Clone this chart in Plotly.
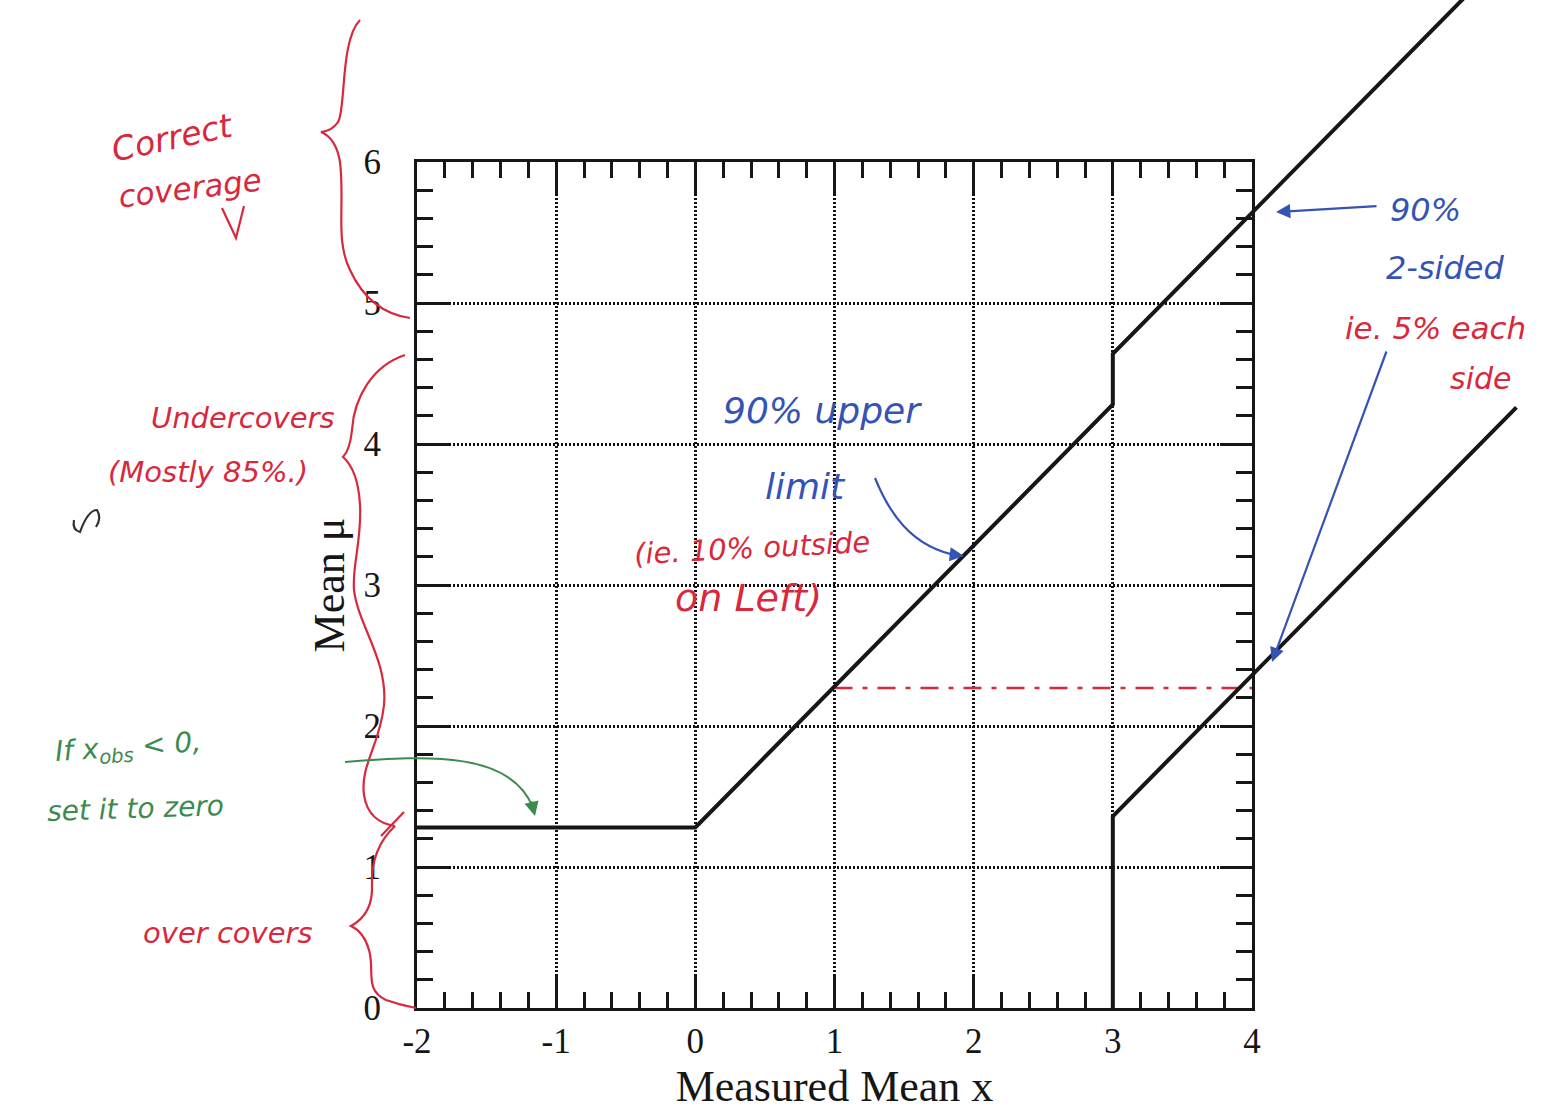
import plotly.graph_objects as go

# ---- figure geometry (pixels) ----
W, H = 1548, 1111
PLOT_L, PLOT_R, PLOT_T, PLOT_B = 417, 1252, 162, 1008

X_MIN, X_MAX = -2, 4
Y_MIN, Y_MAX = 0, 6

# ---- chart values ----
x_ticks = [-2, -1, 0, 1, 2, 3, 4]
x_tick_labels = ["-2", "-1", "0", "1", "2", "3", "4"]
y_ticks = [0, 1, 2, 3, 4, 5, 6]
y_tick_labels = ["0", "1", "2", "3", "4", "5", "6"]

# upper edge of the flip-flopping belt: 90% upper limit, then 90% central upper edge
upper_x = [-2, 0, 3, 3, 5.55]
upper_mu = [1.28, 1.28, 4.28, 4.64, 7.19]

# lower edge of the belt: zero until x = 3, then 90% central lower edge
lower_x = [3, 3, 5.9]
lower_mu = [0, 1.36, 4.26]

# hand-drawn reference level
ref_x = [1, 4]
ref_mu = [2.27, 2.27]

# ---- colours / fonts ----
INK = "#161616"
RED = "#d8283c"
BLUE = "#3553b5"
GREEN = "#3d8a4f"
SERIF = "Liberation Serif"
HAND = "DejaVu Sans"

# axis domains in paper coordinates
xd = [PLOT_L / W, PLOT_R / W]
yd = [(H - PLOT_B) / H, (H - PLOT_T) / H]

# full-page overlay axes sharing the same data scale (lets lines run past the frame)
sx = (PLOT_R - PLOT_L) / (X_MAX - X_MIN)
sy = (PLOT_B - PLOT_T) / (Y_MAX - Y_MIN)
x2_range = [X_MIN - PLOT_L / sx, X_MAX + (W - PLOT_R) / sx]
y2_range = [Y_MIN - (H - PLOT_B) / sy, Y_MAX + PLOT_T / sy]


def px(x, y):
    """pixel position -> paper coordinates"""
    return x / W, 1 - y / H


def path(cmds):
    """build an SVG path (paper coords) from pixel-space commands"""
    out = []
    for c in cmds:
        op, pts = c[0], c[1:]
        coords = " ".join("%.5f,%.5f" % px(pts[i], pts[i + 1]) for i in range(0, len(pts), 2))
        out.append(op + " " + coords)
    return " ".join(out)


fig = go.Figure()

# dashed level lies inside the frame, so it lives on the main axes
fig.add_trace(go.Scatter(x=ref_x, y=ref_mu, mode="lines",
                         line=dict(color=RED, width=2.5, dash="18px,10px,5px,10px"),
                         xaxis="x", yaxis="y", showlegend=False, hoverinfo="skip"))
fig.add_trace(go.Scatter(x=upper_x, y=upper_mu, mode="lines",
                         line=dict(color=INK, width=4), xaxis="x2", yaxis="y2",
                         showlegend=False, hoverinfo="skip"))
fig.add_trace(go.Scatter(x=lower_x, y=lower_mu, mode="lines",
                         line=dict(color=INK, width=4), xaxis="x2", yaxis="y2",
                         showlegend=False, hoverinfo="skip"))

axis_common = dict(
    automargin=False,
    ticks="inside", ticklen=32, tickwidth=3, tickcolor=INK,
    showline=True, linewidth=3, linecolor=INK, mirror="ticks",
    showgrid=True, gridcolor="#111111", gridwidth=2.5, griddash="2px,2px",
    zeroline=False, tickfont=dict(family=SERIF, size=35, color=INK),
    minor=dict(dtick=0.2, ticks="inside", ticklen=16, tickwidth=3,
               tickcolor=INK, showgrid=False),
)

fig.update_layout(
    template="none",
    width=W, height=H, margin=dict(l=0, r=0, t=0, b=0, pad=0, autoexpand=False),
    paper_bgcolor="white", plot_bgcolor="rgba(0,0,0,0)",
    showlegend=False,
    xaxis=dict(domain=xd, range=[X_MIN, X_MAX], anchor="y",
               tickmode="array", tickvals=x_ticks, ticktext=x_tick_labels,
               ticklabelstandoff=0,
               title=dict(text="Measured Mean x", standoff=12,
                          font=dict(family=SERIF, size=44, color=INK)),
               **axis_common),
    yaxis=dict(domain=yd, range=[Y_MIN, Y_MAX], anchor="x",
               tickmode="array", tickvals=y_ticks, ticktext=y_tick_labels,
               ticklabelstandoff=26,
               title=dict(text="Mean μ", standoff=6,
                          font=dict(family=SERIF, size=44, color=INK)),
               **axis_common),
    xaxis2=dict(domain=[0, 1], range=x2_range, anchor="y2", visible=False,
                fixedrange=True, automargin=False),
    yaxis2=dict(domain=[0, 1], range=y2_range, anchor="x2", visible=False,
                fixedrange=True, automargin=False),
)

# ---- hand-drawn braces, arrows and marks ----
shapes = [
    # brace: correct coverage
    path([("M", 360, 20), ("C", 340, 40, 346, 110, 338, 122), ("Q", 332, 131, 321, 132),
          ("Q", 336, 138, 340, 162), ("C", 345, 205, 335, 240, 350, 270),
          ("C", 362, 296, 382, 314, 410, 318)]),
    # brace: undercovers
    path([("M", 405, 355), ("C", 372, 366, 354, 398, 352, 430), ("Q", 350, 450, 343, 457),
          ("Q", 358, 470, 360, 505), ("C", 362, 540, 352, 565, 354, 590),
          ("C", 358, 625, 388, 660, 384, 705), ("C", 380, 745, 360, 765, 364, 795),
          ("C", 367, 815, 380, 824, 395, 826)]),
    path([("M", 381, 836), ("L", 404, 812)]),
    # brace: over covers
    path([("M", 395, 826), ("C", 380, 840, 371, 858, 372, 885), ("C", 373, 908, 362, 920, 351, 926),
          ("Q", 364, 932, 369, 950), ("C", 375, 970, 364, 990, 386, 1000),
          ("Q", 400, 1005, 416, 1008)]),
    # tick under "coverage"
    path([("M", 222, 208), ("L", 236, 238), ("L", 244, 206)]),
]
fig.update_layout(shapes=[dict(type="path", path=p, xref="paper", yref="paper",
                               line=dict(color=RED, width=2.2)) for p in shapes])

# green curved pointer to the flat part
fig.add_shape(type="path", xref="paper", yref="paper",
              path=path([("M", 345, 762), ("C", 430, 755, 512, 752, 533, 808)]),
              line=dict(color=GREEN, width=2))
# blue curved pointer to the upper-limit line
fig.add_shape(type="path", xref="paper", yref="paper",
              path=path([("M", 875, 478), ("C", 888, 510, 910, 548, 960, 556)]),
              line=dict(color=BLUE, width=2.2))
# small stray pen mark at the left margin
fig.add_shape(type="path", xref="paper", yref="paper",
              path=path([("M", 74, 520), ("Q", 72, 530, 80, 532), ("Q", 88, 510, 97, 510),
                         ("Q", 102, 518, 96, 527)]),
              line=dict(color="#333333", width=2.2))


def note(text, x, y, color, size=27, angle=0):
    xp, yp = px(x, y)
    fig.add_annotation(x=xp, y=yp, xref="paper", yref="paper", text=text, showarrow=False,
                       textangle=angle, xanchor="center", yanchor="middle",
                       font=dict(family=HAND, size=size, color=color, style="italic"))


def arrowhead(x, y, dx, dy, color):
    xp, yp = px(x, y)
    fig.add_annotation(x=xp, y=yp, xref="paper", yref="paper", text="", showarrow=True,
                       ax=dx, ay=dy, arrowhead=2, arrowsize=1.3, arrowwidth=2.2,
                       arrowcolor=color)


note("Correct", 172, 138, RED, 33, -12)
note("coverage", 190, 188, RED, 31, -7)
note("Undercovers", 243, 418, RED, 29, 0)
note("(Mostly 85%.)", 208, 472, RED, 29, 0)
note("over covers", 228, 933, RED, 29, 0)
note("If x<sub>obs</sub> < 0,", 128, 748, GREEN, 28, -4)
note("set it to zero", 135, 808, GREEN, 28, -2)
note("90% upper", 822, 410, BLUE, 36, 0)
note("limit", 805, 486, BLUE, 36, 0)
note("(ie. 10% outside", 752, 548, RED, 29, -3)
note("on Left)", 748, 598, RED, 38, 0)
note("90%", 1425, 210, BLUE, 32, 0)
note("2-sided", 1445, 268, BLUE, 32, 0)
note("ie. 5% each", 1435, 328, RED, 31, 0)
note("side", 1480, 378, RED, 30, 0)

arrowhead(535, 816, -4, -16, GREEN)
arrowhead(964, 556, -16, -2, BLUE)

# straight blue pointers
for (hx, hy, tx, ty) in [(1276, 212, 1378, 206), (1272, 662, 1387, 350)]:
    xp, yp = px(hx, hy)
    fig.add_annotation(x=xp, y=yp, xref="paper", yref="paper", text="", showarrow=True,
                       ax=tx - hx, ay=ty - hy, arrowhead=2, arrowsize=1.3, arrowwidth=2.2,
                       arrowcolor=BLUE)

fig.write_html("out.html")
